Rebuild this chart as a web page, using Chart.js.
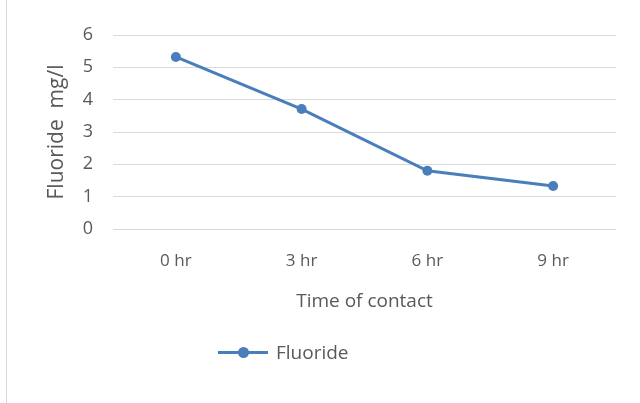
<!DOCTYPE html>
<html><head><meta charset="utf-8">
<script src="https://cdn.jsdelivr.net/npm/chart.js@4"></script>
<style>
html,body{margin:0;padding:0;background:#fff;}
#wrap{position:relative;width:640px;height:403px;}
#wrap:before{content:"";position:absolute;left:6px;top:0;width:1px;height:403px;background:#d9d9d9;}
#legend{position:absolute;left:218px;top:339px;height:26px;display:flex;align-items:center;font-family:'Open Sans','Liberation Sans',sans-serif;font-size:19px;color:#595959;}
#legend .sw{position:relative;width:50px;height:3px;margin-right:8px;}
#legend .sw i{position:absolute;left:0;top:0;width:50px;height:3px;}
#legend .sw b{position:absolute;left:20px;top:-4px;width:11px;height:11px;border-radius:50%;}
</style></head>
<body><div id="wrap"><canvas id="c" width="640" height="403"></canvas><div id="legend"></div></div>
<script>
const categories = ["0 hr","3 hr","6 hr","9 hr"];
const fluoride = [5.32, 3.71, 1.8, 1.33];
const yTicks = [0,1,2,3,4,5,6];
const seriesName = 'Fluoride';

const color = '#4a7ebb';
const font = "'Open Sans', 'Liberation Sans', sans-serif";
const chart = new Chart(document.getElementById('c'), {
  type: 'line',
  data: { labels: categories, datasets: [{
    label: seriesName, data: fluoride, borderColor: color, backgroundColor: color,
    borderWidth: 3, pointRadius: 5, pointHoverRadius: 5, pointBorderWidth: 0, tension: 0
  }]},
  options: {
    responsive: false, animation: false,
    layout: { padding: { left: 44, right: 24, top: 35, bottom: 70 } },
    plugins: { legend: { display: false }, tooltip: { enabled: false } },
    scales: {
      x: { offset: true, grid: { display: false, drawTicks: false }, border: { display: false },
        afterFit: (a) => { a.height = 104; },
        ticks: { color: '#595959', font: { family: font, size: 17 }, padding: 22 },
        title: { display: true, text: 'Time of contact', color: '#595959', font: { family: font, size: 19 }, padding: { top: 0, bottom: 20 } } },
      y: { min: 0, max: 6, afterBuildTicks: (a) => { a.ticks = yTicks.map(v => ({ value: v })); },
        afterFit: (a) => { a.width = 69; },
        grid: { color: '#d9d9d9', lineWidth: 1, drawTicks: false }, border: { display: false },
        ticks: { color: '#595959', font: { family: font, size: 18 }, padding: 20 },
        title: { display: true, text: 'Fluoride  mg/l', color: '#595959', font: { family: font, size: 21 }, padding: 0 } }
    }
  }
});
const lg = document.getElementById('legend');
chart.data.datasets.forEach(ds => {
  const sw = document.createElement('span'); sw.className = 'sw';
  const ln = document.createElement('i'); ln.style.background = ds.borderColor;
  const dot = document.createElement('b'); dot.style.background = ds.backgroundColor;
  sw.appendChild(ln); sw.appendChild(dot);
  const t = document.createElement('span'); t.textContent = ds.label;
  lg.appendChild(sw); lg.appendChild(t);
});
</script></body></html>
